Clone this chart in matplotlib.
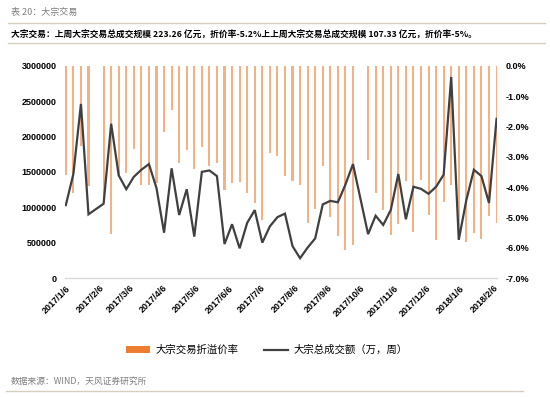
import matplotlib
matplotlib.use("Agg")
import matplotlib.pyplot as plt
import matplotlib.dates as mdates
from matplotlib.lines import Line2D
from matplotlib.patches import Patch
from matplotlib.ticker import FuncFormatter
import pandas as pd

plt.rcParams['font.family'] = ['Liberation Sans', 'Noto Sans CJK SC', 'DejaVu Sans']

# weekly trading Fridays, Spring Festival and National Day weeks closed
weeks = pd.date_range('2017-01-06', '2018-02-09', freq='7D')
dates = weeks.drop(pd.to_datetime(['2017-02-03', '2017-10-06']))

discount_pct = [-3.6, -4.2, -2.65, -3.95, -4.5, -5.55, -3.6, -3.55, -2.75, -3.94,
                -3.94, -3.88, -2.18, -1.46, -3.22, -2.78, -3.39, -2.69, -3.3, -3.2,
                -4.1, -3.88, -3.83, -4.19, -4.54, -5.1, -2.87, -2.97, -3.64, -3.79,
                -3.94, -5.2, -4.71, -3.3, -4.98, -5.62, -6.08, -5.92, -3.1, -4.2,
                -4.76, -5.59, -5.23, -3.8, -5.48, -3.77, -4.93, -5.75, -4.5, -3.94,
                -5.75, -5.81, -5.53, -5.73, -4.96, -5.2]

volume = [1030000, 1470000, 2460000, 900000, 1050000, 2180000, 1450000, 1255000,
          1430000, 1530000, 1610000, 1270000, 640000, 1550000, 890000, 1255000,
          585000, 1500000, 1520000, 1440000, 480000, 760000, 420000, 780000,
          960000, 500000, 730000, 860000, 910000, 450000, 280000, 430000,
          560000, 1040000, 1090000, 1070000, 1320000, 1610000, 620000, 880000,
          750000, 960000, 1470000, 830000, 1290000, 1260000, 1190000, 1290000,
          1460000, 2840000, 540000, 1100000, 1530000, 1440000, 1060000, 2250000]

month_ticks = pd.date_range('2017-01-01', '2018-02-01', freq='MS') + pd.Timedelta(days=5)

bar_color = '#ED7D31'
line_color = '#404040'
tick_font = dict(fontsize=6.5, fontweight='bold', color='#000000')

fig = plt.figure(figsize=(5.5, 3.97), dpi=100)
ax = fig.add_axes([0.1185, 0.2997, 0.7855, 0.5348])
ax2 = ax.twinx()

ax2.bar(dates, discount_pct, width=1.9, color=bar_color, alpha=0.6, linewidth=0)
ax.plot(dates, volume, color=line_color, linewidth=1.6, solid_joinstyle='miter')

ax.set_zorder(ax2.get_zorder() + 1)
ax.patch.set_visible(False)

ax.set_xlim(dates[0] - pd.Timedelta(days=0.6), dates[-1] + pd.Timedelta(days=0.6))
ax.set_ylim(0, 3000000)
ax.set_yticks(range(0, 3000001, 500000))
ax.yaxis.set_major_formatter(FuncFormatter(lambda v, p: f'{int(v)}'))
ax2.set_ylim(-7.0, 0.0)
ax2.set_yticks([0, -1, -2, -3, -4, -5, -6, -7])
ax2.yaxis.set_major_formatter(FuncFormatter(lambda v, p: f'{v:.1f}%'))

ax.set_xticks(month_ticks)
ax.xaxis.set_major_formatter(FuncFormatter(
    lambda v, p: (lambda d: f'{d.year}/{d.month}/{d.day}')(mdates.num2date(v))))

for a in (ax, ax2):
    for s in a.spines.values():
        s.set_visible(False)
ax.spines['bottom'].set_visible(True)
ax.spines['bottom'].set_color('#D9D9D9')
ax.spines['bottom'].set_linewidth(1.0)

ax.tick_params(axis='y', length=0, pad=6)
ax2.tick_params(axis='y', length=0, pad=6)
ax.tick_params(axis='x', length=0, pad=4)
for lab in ax.get_yticklabels() + ax2.get_yticklabels():
    lab.set(**tick_font)
for lab in ax.get_xticklabels():
    lab.set(**tick_font)
    lab.set_rotation(45)
    lab.set_ha('right')
    lab.set_va('top')
    lab.set_rotation_mode('anchor')

handles = [Patch(facecolor=bar_color, edgecolor='none'),
           Line2D([], [], color=line_color, linewidth=1.6)]
fig.legend(handles, ['大宗交易折溢价率', '大宗总成交额（万，周）'],
           loc='center', bbox_to_anchor=(0.485, 0.118), ncol=2, frameon=False,
           prop={'family': ['Noto Sans CJK SC'], 'size': 7.5},
           handlelength=2.3, handleheight=0.6, columnspacing=2.5, handletextpad=0.5)

# header, separators and source line
fig.text(0.02, 0.968, '表 20：大宗交易', fontsize=6.5, color='#7F7F7F',
         family=['Noto Sans CJK SC'], va='center')
fig.text(0.02, 0.912,
         '大宗交易：上周大宗交易总成交规模 223.26 亿元，折价率-5.2%上上周大宗交易总成交规模 107.33 亿元，折价率-5%。',
         fontsize=6.3, fontweight='bold', family=['Noto Sans CJK SC'], va='center')
fig.text(0.02, 0.04, '数据来源：WIND，天风证券研究所', fontsize=6.3, color='#7F7F7F',
         family=['Noto Sans CJK SC'], va='center')
for y, x0, x1 in [(0.943, 0.015, 0.99), (0.891, 0.015, 0.99), (0.015, 0.01, 0.95)]:
    fig.add_artist(Line2D([x0, x1], [y, y], color='#D6CFC0', linewidth=1.0))

fig.savefig('out.png', dpi=100)
